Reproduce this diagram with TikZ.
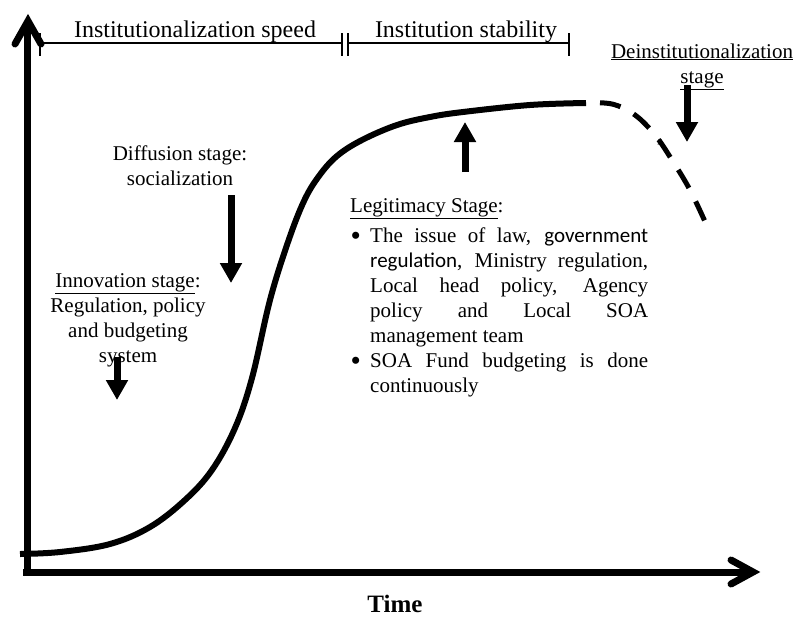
\documentclass[tikz,border=0pt]{standalone}
\usepackage{fontspec}
\setmainfont{Liberation Serif}
\newfontfamily\calibrifont{Carlito}
\usetikzlibrary{arrows.meta}

\begin{document}
\begin{tikzpicture}[x=1pt, y=-1pt,
  axisline/.style={line width=7pt, line cap=round, line join=miter},
  stagearrow/.style={line width=7pt, -{Triangle[width=21pt,length=20pt]}},
  bracketline/.style={line width=1.6pt},
  bodytext/.style={inner sep=0pt, font=\fontsize{21}{25}\selectfont},
  toptext/.style={inner sep=0pt, font=\fontsize{24}{28}\selectfont, anchor=base}]
  %%%%% START %%%%%
  \useasboundingbox (0,0) rectangle (794,621);

  % brackets over the curve
  \draw[bracketline] (40,33) -- (40,56) (40,43) -- (342,43) (342,33) -- (342,56);
  \draw[bracketline] (348,33) -- (348,56) (348,43) -- (569,43) (569,33) -- (569,56);
  \node[toptext] (speed) at (195,37) {Institutionalization speed};
  \node[toptext] (stability) at (466,37) {Institution stability};

  % axes
  \coordinate (origin) at (27,572);
  \coordinate (ytip) at (28,21);
  \coordinate (xtip) at (753,572);
  \draw[line width=7pt] (27,576) -- (27,26);
  \draw[line width=7pt] (23,572) -- (750,572);
  \draw[axisline] (15,44) -- (ytip) -- (41,44);
  \draw[axisline] (731,560) -- (xtip) -- (731,584);
  \node[inner sep=0pt, anchor=base, font=\fontsize{25}{30}\selectfont\bfseries] (time) at (395,612) {Time};

  % s-curve
  \draw[line width=6pt] plot[smooth, tension=0.6] coordinates {(20,554) (60,552) (110,544) (150,527)
    (185,500) (212,470) (235,428) (252,378) (270,300) (288,242) (304,201) (319,176) (337,156)
    (362,140) (397,125) (430,117) (463,112) (530,105) (586,103)};
  \draw[line width=5pt, dash pattern=on 21pt off 15pt, dash phase=21pt] plot[smooth, tension=0.6]
    coordinates {(585,103) (612,104) (635,115) (655,135) (672,160) (690,190) (707,226)};
  \node[inner sep=0pt, font=\fontsize{20}{20}\selectfont\bfseries] (mark) at (660,146) {’};

  % stage labels
  \node[bodytext, align=center, anchor=base] (deinst) at (702,83) {\underline{Deinstitutionalization}\\\underline{stage}};
  \node[bodytext, align=center, anchor=base] (diffusion) at (180,185) {Diffusion stage:\\socialization};
  \node[bodytext, align=center, anchor=base] (innovation) at (128,362) {\underline{Innovation stage}:\\Regulation, policy\\and budgeting\\system};
  \node[bodytext, anchor=base west] (legitimacy) at (350,212) {\underline{Legitimacy Stage}:};
  \node[bodytext, text width=278pt, align=justify, anchor=base west] (item1) at (370,242)
    {The issue of law, {\calibrifont government}\linebreak {\calibrifont regulation}, Ministry regulation,\linebreak
     Local head policy, Agency\linebreak policy and Local SOA\linebreak management team};
  \node[bodytext, text width=278pt, align=justify, anchor=base west] (item2) at (370,367)
    {SOA Fund budgeting is done\linebreak continuously};
  \node[bodytext, anchor=base east] (bullet1) at (361,245) {\scalebox{1.4}{\textbullet}};
  \node[bodytext, anchor=base east] (bullet2) at (361,370) {\scalebox{1.4}{\textbullet}};

  % stage arrows
  \coordinate (diffstart) at (231,195);
  \coordinate (diffend) at (231,283);
  \coordinate (innostart) at (117,357);
  \coordinate (innoend) at (117,400);
  \coordinate (legitstart) at (465,172);
  \coordinate (legitend) at (465,122);
  \coordinate (deinststart) at (687,85);
  \coordinate (deinstend) at (687,142);
  \draw[stagearrow] (diffstart) -- (diffend);
  \draw[stagearrow] (innostart) -- (innoend);
  \draw[stagearrow] (legitstart) -- (legitend);
  \draw[stagearrow] (deinststart) -- (deinstend);
  %%%%% END %%%%%
\end{tikzpicture}
\end{document}
